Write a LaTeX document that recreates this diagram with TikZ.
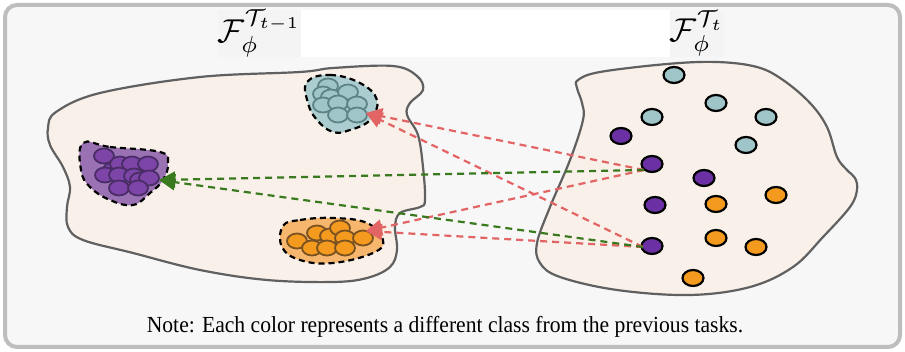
\documentclass[tikz,border=0pt]{standalone}
\usepackage{fontspec}
\setmainfont{Liberation Serif}
\usetikzlibrary{arrows.meta,shapes.geometric,calc}
\definecolor{framegray}{HTML}{BDBDBD}
\definecolor{panel}{HTML}{F7F7F7}
\definecolor{labgray}{HTML}{F4F4F4}
\definecolor{blobfill}{HTML}{F8F0E9}
\definecolor{blobline}{HTML}{606060}
\definecolor{teal}{HTML}{A0C5C9}
\definecolor{tealdark}{HTML}{5E8386}
\definecolor{tealcl}{HTML}{ABCDD0}
\definecolor{purp}{HTML}{6B30A3}
\definecolor{purpsm}{HTML}{7D45A8}
\definecolor{purpdark}{HTML}{4A2D66}
\definecolor{purpcl}{HTML}{9A72B4}
\definecolor{orng}{HTML}{F39A1F}
\definecolor{orngdark}{HTML}{7A5121}
\definecolor{orngcl}{HTML}{F6B66E}
\definecolor{redl}{HTML}{E36464}
\definecolor{greenl}{HTML}{3A7A1E}
\tikzset{
  blob/.style={draw=blobline, line width=2.2pt, fill=blobfill},
  cluster/.style={draw=black, line width=2.2pt, dash pattern=on 6pt off 4pt},
  dot/.style={ellipse, draw=black, line width=2.2pt, minimum width=21pt, minimum height=16pt, inner sep=0pt},
  tdot/.style={dot, fill=teal},
  pdot/.style={dot, fill=purp},
  odot/.style={dot, fill=orng},
  sm/.style={ellipse, line width=1.8pt, minimum width=20pt, minimum height=15pt, inner sep=0pt},
  tsm/.style={sm, draw=tealdark, fill=teal},
  psm/.style={sm, draw=purpdark, fill=purpsm},
  osm/.style={sm, draw=orngdark, fill=orng},
  redarrow/.style={draw=redl, line width=2.2pt, dash pattern=on 7pt off 5pt, -{Triangle[length=16pt,width=16pt,fill=redl]}},
  greenarrow/.style={draw=greenl, line width=2.2pt, dash pattern=on 7pt off 5pt, -{Triangle[length=16pt,width=16pt,fill=greenl]}},
  lab/.style={fill=labgray, inner sep=0pt, minimum height=47pt}
}
\begin{document}
\begin{tikzpicture}[x=1pt,y=-1pt]
\useasboundingbox (0,0) rectangle (905,352);
\fill[white] (0,0) rectangle (905,352);
\draw[draw=framegray, line width=4pt, fill=panel, rounded corners=12pt] (5,5) rectangle (900,347);
\fill[white] (224,10) rectangle (720,57);
\node[lab, minimum width=71pt] (labL) at (259.5,33.5) {\scalebox{3.3}{$\mathcal{F}_{\phi}^{\mathcal{T}_{t-1}}$}};
\node[lab, minimum width=46pt] (labR) at (697,33.5) {\scalebox{3.3}{$\mathcal{F}_{\phi}^{\mathcal{T}_{t}}$}};

% left blob
\draw[blob] plot[smooth cycle, tension=0.6] coordinates {
(48,128) (56,112) (100,93) (200,77) (300,72) (333,68) (393,66) (417,76) (423,90)
(410,103) (407,115) (418,135) (423,167) (425,200) (420,207) (400,213) (395,227)
(397,250) (390,267) (367,278) (333,282) (267,280) (200,270) (133,253) (83,240)
(68,227) (67,207) (70,187) (63,167) (50,145)};
% right blob
\draw[blob] plot[smooth cycle, tension=0.6] coordinates {
(578,80) (600,72) (667,64) (717,62) (757,67) (783,80) (810,103) (827,127)
(837,157) (847,170) (855,178) (857,190) (850,207) (823,237) (793,267) (750,287)
(690,295) (617,290) (560,277) (540,263) (537,243) (550,207) (570,160) (583,120)
(582,103) (577,88)};

% clusters
\draw[cluster, fill=purpcl] plot[smooth cycle, tension=0.7] coordinates {
(83,143) (110,147) (160,152) (168,163) (163,180) (150,193) (133,205) (110,200) (90,187) (81,170)};
\draw[cluster, fill=tealcl] plot[smooth cycle, tension=0.7] coordinates {
(307,82) (330,75) (360,83) (377,100) (370,120) (350,130) (333,132) (317,120) (308,103)};
\draw[cluster, fill=orngcl] plot[smooth cycle, tension=0.7] coordinates {
(283,226) (300,220) (333,218) (367,223) (383,240) (373,253) (333,263) (300,260) (282,247)};

% purple cluster members
\foreach \p [count=\i] in {(104,156),(113,170),(105,175),(120,164),(132,164),(148,164),(119,175),(134,176),(140,180),(149,178),(119,188),(138,188)}
  \node[psm] (pc\i) at \p {};
% teal cluster members
\foreach \p [count=\i] in {(328,86),(323,94),(331,97),(348,92),(323,105),(338,103),(357,104),(338,115),(357,115)}
  \node[tsm] (tc\i) at \p {};
% orange cluster members
\foreach \p [count=\i] in {(297,241),(312,248),(317,233),(330,236),(327,248),(340,228),(345,238),(345,248),(363,238)}
  \node[osm] (oc\i) at \p {};

% right dots
\node[tdot] (t1) at (674,75) {};
\node[tdot] (t2) at (716,103) {};
\node[tdot] (t3) at (652,117) {};
\node[tdot] (t4) at (766,117) {};
\node[tdot] (t5) at (746,145) {};
\node[pdot] (p1) at (621,136) {};
\node[pdot] (p2) at (652,164) {};
\node[pdot] (p3) at (704,178) {};
\node[pdot] (p4) at (655,205) {};
\node[pdot] (p5) at (652,246) {};
\node[odot] (o1) at (776,195) {};
\node[odot] (o2) at (716,204) {};
\node[odot] (o3) at (716,238) {};
\node[odot] (o4) at (756,247) {};
\node[odot] (o5) at (693,278) {};

% arrow targets
\coordinate (tipT) at (366,113);
\coordinate (tipP) at (159,180);
\coordinate (tipO) at (366,231);
\coordinate (s1) at (644,170);
\coordinate (s2) at (643,247);

\draw[redarrow] (s1) -- (tipT);
\draw[redarrow] (s2) -- (tipT);
\draw[redarrow] (s1) -- (tipO);
\draw[redarrow] (s2) -- (tipO);
\draw[greenarrow] (s1) -- (tipP);
\draw[greenarrow] (s2) -- (tipP);

\node[anchor=base, inner sep=0pt] (note) at (445,333) {\scalebox{0.94}[1]{\fontsize{23}{26}\selectfont Note: Each color represents a different class from the previous tasks.}};
\end{tikzpicture}
\end{document}
